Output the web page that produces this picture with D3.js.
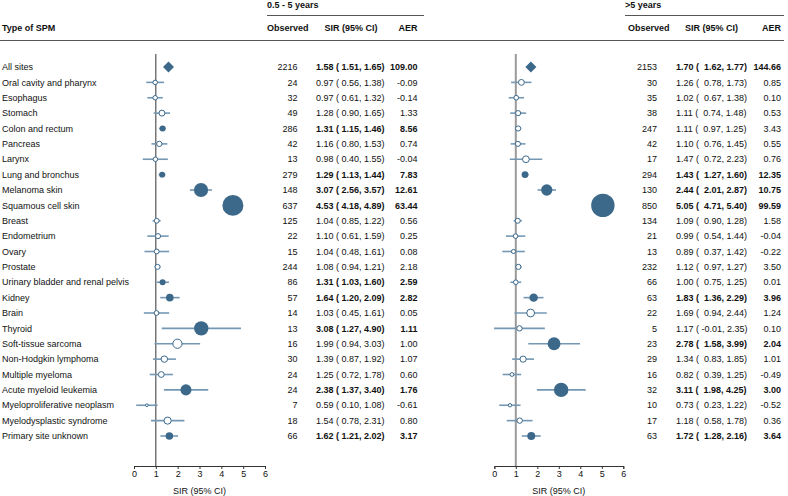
<!DOCTYPE html>
<html><head><meta charset="utf-8">
<script src="https://cdn.jsdelivr.net/npm/d3@7"></script>
<style>
body{margin:0;background:#fff;}
svg{font-family:"Liberation Sans",Arial,sans-serif;}
text{white-space:pre;}
</style></head>
<body><svg id="c" width="788" height="496"></svg>
<script>
const categories = ["All sites","Oral cavity and pharynx","Esophagus","Stomach","Colon and rectum","Pancreas","Larynx","Lung and bronchus","Melanoma skin","Squamous cell skin","Breast","Endometrium","Ovary","Prostate","Urinary bladder and renal pelvis","Kidney","Brain","Thyroid","Soft-tissue sarcoma","Non-Hodgkin lymphoma","Multiple myeloma","Acute myeloid leukemia","Myeloproliferative neoplasm","Myelodysplastic syndrome","Primary site unknown"];

// 0.5 - 5 years
const obsA = [2216,24,32,49,286,42,13,279,148,637,125,22,15,244,86,57,14,13,16,30,24,24,7,18,66];
const sirA = [1.58,0.97,0.97,1.28,1.31,1.16,0.98,1.29,3.07,4.53,1.04,1.10,1.04,1.08,1.31,1.64,1.03,3.08,1.99,1.39,1.25,2.38,0.59,1.54,1.62];
const loA  = [1.51,0.56,0.61,0.90,1.15,0.80,0.40,1.13,2.56,4.18,0.85,0.61,0.48,0.94,1.03,1.20,0.45,1.27,0.94,0.87,0.72,1.37,0.10,0.78,1.21];
const hiA  = [1.65,1.38,1.32,1.65,1.46,1.53,1.55,1.44,3.57,4.89,1.22,1.59,1.61,1.21,1.60,2.09,1.61,4.90,3.03,1.92,1.78,3.40,1.08,2.31,2.02];
const aerA = [109.00,-0.09,-0.14,1.33,8.56,0.74,-0.04,7.83,12.61,63.44,0.56,0.25,0.08,2.18,2.59,2.82,0.05,1.11,1.00,1.07,0.60,1.76,-0.61,0.80,3.17];

// >5 years
const obsB = [2153,30,35,38,247,42,17,294,130,850,134,21,13,232,66,63,22,5,23,29,16,32,10,17,63];
const sirB = [1.70,1.26,1.02,1.11,1.11,1.10,1.47,1.43,2.44,5.05,1.09,0.99,0.89,1.12,1.00,1.83,1.69,1.17,2.78,1.34,0.82,3.11,0.73,1.18,1.72];
const loB  = [1.62,0.78,0.67,0.74,0.97,0.76,0.72,1.27,2.01,4.71,0.90,0.54,0.37,0.97,0.75,1.36,0.94,-0.01,1.58,0.83,0.39,1.98,0.23,0.58,1.28];
const hiB  = [1.77,1.73,1.38,1.48,1.25,1.45,2.23,1.60,2.87,5.40,1.28,1.44,1.42,1.27,1.25,2.29,2.44,2.35,3.99,1.85,1.25,4.25,1.22,1.78,2.16];
const aerB = [144.66,0.85,0.10,0.53,3.43,0.55,0.76,12.35,10.75,99.59,1.58,-0.04,-0.22,3.50,0.01,3.96,1.24,0.10,2.04,1.01,-0.49,3.00,-0.52,0.36,3.64];

const axisTicks = [0,1,2,3,4,5,6];
const periodLabels = ["0.5 - 5 years", ">5 years"];
const colHeaders = ["Observed","SIR (95% CI)","AER"];

const svg = d3.select("#c");
const FS = 9;
const txt = "#111";
const fill = "#3c6889";
const ciCol = "#7498b4";

const y = d3.scalePoint().domain(categories).range([67, 436]);
const rScale = d3.scaleLinear().domain([0, 6]).range([0, 13.9]);

function addText(x, yy, s, opts = {}) {
  return svg.append("text").attr("x", x).attr("y", yy).attr("dy", "0.35em")
    .attr("font-size", FS).attr("fill", txt)
    .attr("font-weight", opts.bold ? "bold" : null)
    .attr("text-anchor", opts.anchor || "start").text(s);
}

// header
addText(2, 28, "Type of SPM", {bold: true});
svg.append("line").attr("x1", 0).attr("x2", 784).attr("y1", 40.5).attr("y2", 40.5).attr("stroke", "#555").attr("stroke-width", 1);

categories.forEach(c => addText(2, y(c), c));

function panel(cfg) {
  const {obs, sir, lo, hi, aer, x0, x1, refStyle, cols, label} = cfg;
  const x = d3.scaleLinear().domain([0, 6]).range([x0, x1]);
  const n = categories.length;
  const sig = d3.range(n).map(i => lo[i] > 1);

  // ref line
  svg.append("line").attr("x1", x(1)).attr("x2", x(1)).attr("y1", 54).attr("y2", 466)
    .attr("stroke", refStyle.color).attr("stroke-width", refStyle.w);

  // CI lines
  svg.append("g").selectAll("line").data(d3.range(n)).join("line")
    .attr("x1", i => x(lo[i])).attr("x2", i => x(hi[i]))
    .attr("y1", i => y(categories[i])).attr("y2", i => y(categories[i]))
    .attr("stroke", ciCol).attr("stroke-width", 1.6);

  // markers
  const idx = d3.range(1, n);
  svg.append("g").selectAll("circle").data(idx).join("circle")
    .attr("cx", i => x(sir[i])).attr("cy", i => y(categories[i]))
    .attr("r", i => rScale(sir[i]))
    .attr("fill", i => sig[i] ? fill : "#fff")
    .attr("stroke", fill).attr("stroke-width", i => sig[i] ? 0 : 1);
  // diamond for overall
  const dx = x(sir[0]), dy = y(categories[0]), h = 5.5;
  svg.append("path").attr("d", `M${dx - h},${dy}L${dx},${dy - h}L${dx + h},${dy}L${dx},${dy + h}Z`).attr("fill", fill);

  // axis
  const ax = svg.append("g").attr("transform", "translate(0,466)")
    .call(d3.axisBottom(x).tickValues(axisTicks).tickFormat(d3.format("d")).tickSize(3).tickPadding(1.5));
  ax.select(".domain").attr("stroke", "#333");
  ax.selectAll(".tick line").attr("stroke", "#333");
  ax.selectAll("text").attr("font-size", FS).attr("fill", txt).attr("font-family", "Liberation Sans, Arial, sans-serif");
  addText((x(0) + x(6)) / 2, 491, "SIR (95% CI)", {anchor: "middle"});

  // table header
  addText(cols.period, 5, label, {bold: true});
  svg.append("line").attr("x1", cols.period).attr("x2", cols.lineEnd).attr("y1", 15.5).attr("y2", 15.5).attr("stroke", "#555");
  addText(cols.obsHead, 28, colHeaders[0], {bold: true});
  addText(cols.sirHead, 28, colHeaders[1], {bold: true, anchor: "middle"});
  addText(cols.aer, 28, colHeaders[2], {bold: true, anchor: "end"});

  const loW = d3.max(lo, v => v.toFixed(2).length);
  d3.range(n).forEach(i => {
    const yy = y(categories[i]);
    addText(cols.obs, yy, String(obs[i]), {anchor: "end"});
    const loStr = lo[i].toFixed(2).padStart(loW, " ");
    addText(cols.sir, yy, `${sir[i].toFixed(2)} ( ${loStr}, ${hi[i].toFixed(2)})`, {bold: sig[i]});
    addText(cols.aer, yy, aer[i].toFixed(2), {anchor: "end", bold: sig[i]});
  });
}

panel({obs: obsA, sir: sirA, lo: loA, hi: hiA, aer: aerA, x0: 134, x1: 265,
  refStyle: {color: "#333", w: 1}, label: periodLabels[0],
  cols: {period: 267, lineEnd: 424, obsHead: 267, obs: 297.5, sirHead: 351, sir: 316, aer: 417.5}});
panel({obs: obsB, sir: sirB, lo: loB, hi: hiB, aer: aerB, x0: 494.3, x1: 623.3,
  refStyle: {color: "#9a9a9a", w: 2}, label: periodLabels[1],
  cols: {period: 625, lineEnd: 784, obsHead: 628, obs: 657, sirHead: 711.5, sir: 676, aer: 781}});
</script></body></html>
